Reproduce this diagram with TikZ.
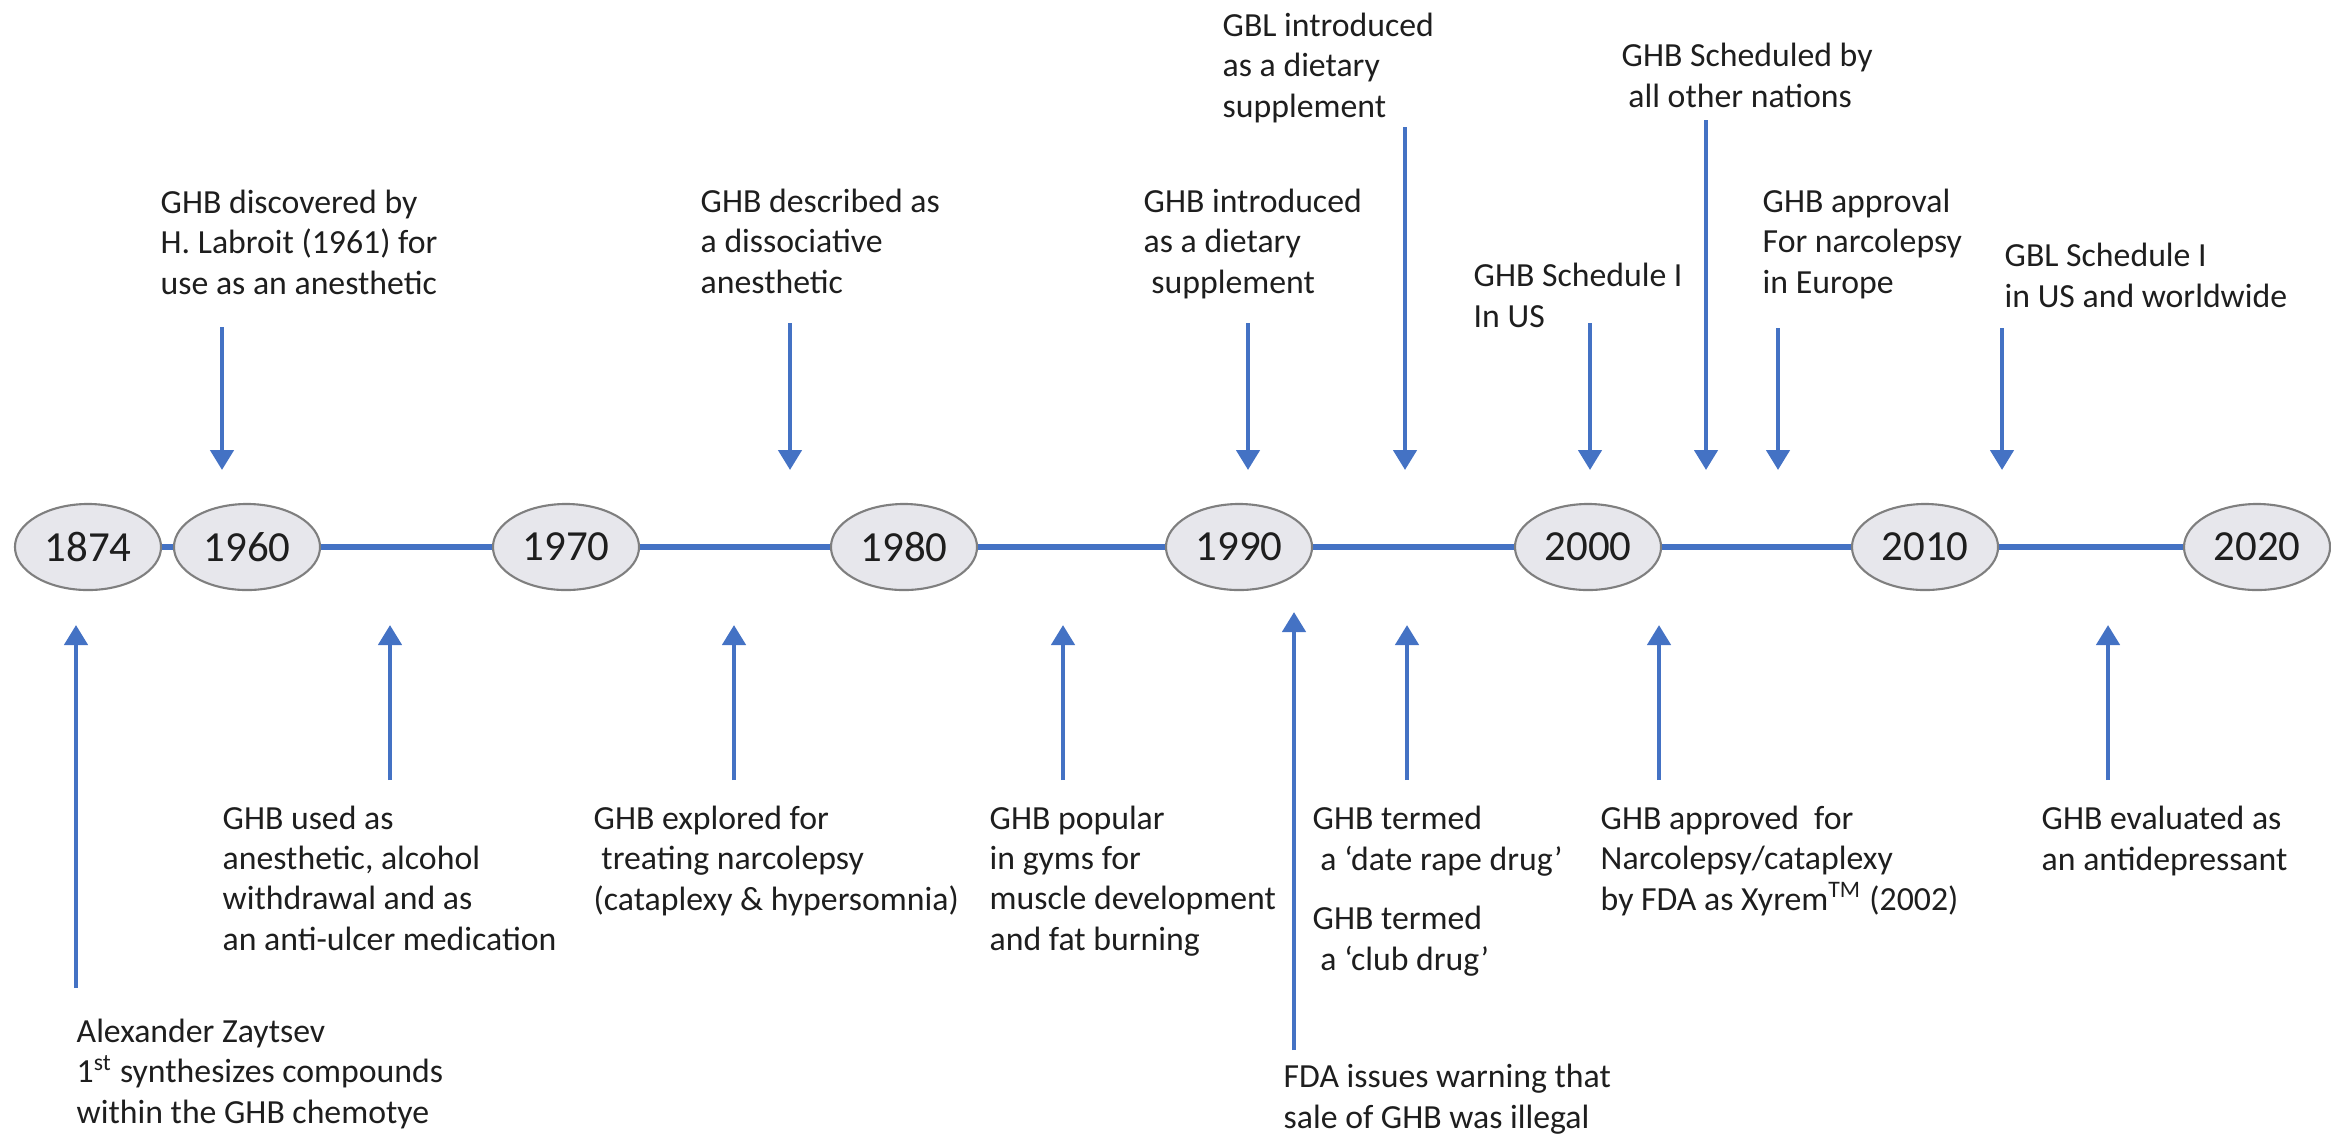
\documentclass[tikz,border=0pt]{standalone}
\usepackage{fontspec}
\setmainfont{Carlito}
\usetikzlibrary{shapes.geometric,arrows.meta}
\definecolor{tlblue}{HTML}{4472C4}
\definecolor{ellfill}{HTML}{E7E7EC}
\definecolor{ellline}{HTML}{7F7F7F}
\definecolor{txt}{HTML}{1E1E1E}
\begin{document}
\begin{tikzpicture}[x=0.01cm,y=-0.01cm,
  year/.style={ellipse,draw=ellline,line width=0.6pt,fill=ellfill,minimum width=1.46cm,minimum height=0.86cm,inner sep=0pt,font=\fontsize{12.2}{14}\selectfont,text=txt},
  ev/.style={anchor=base west,align=left,inner sep=0pt,font=\fontsize{9.6}{11.4}\selectfont,text=txt},
  tline/.style={draw=tlblue,line width=0.055cm},
  evarrow/.style={draw=tlblue,line width=0.045cm,-{Triangle[width=0.23cm,length=0.2cm]}}]
\useasboundingbox (0,0) rectangle (2331,1135);

% year ellipses
\node[year] (y1874) at (88,547) {1874};
\node[year] (y1960) at (247,547) {1960};
\node[year] (y1970) at (566,547) {1970};
\node[year] (y1980) at (904,547) {1980};
\node[year] (y1990) at (1239,547) {1990};
\node[year] (y2000) at (1588,547) {2000};
\node[year] (y2010) at (1925,547) {2010};
\node[year] (y2020) at (2257,547) {2020};

\draw[tline] (y1874) -- (y1960);
\draw[tline] (y1960) -- (y1970);
\draw[tline] (y1970) -- (y1980);
\draw[tline] (y1980) -- (y1990);
\draw[tline] (y1990) -- (y2000);
\draw[tline] (y2000) -- (y2010);
\draw[tline] (y2010) -- (y2020);

% top events (node position = baseline of the last line)
\node[ev] (eA) at (160,294) {GHB discovered by\\H. Labroit (1961) for\\use as an anesthetic};
\coordinate (aA1) at (222,327); \coordinate (aA2) at (222,470);
\draw[evarrow] (aA1) -- (aA2);

\node[ev] (eB) at (700,293) {GHB described as\\a dissociative\\anesthetic};
\coordinate (aB1) at (790,323); \coordinate (aB2) at (790,470);
\draw[evarrow] (aB1) -- (aB2);

\node[ev] (eC) at (1143,293) {GHB introduced\\as a dietary\\\hspace{0.23em}supplement};
\coordinate (aC1) at (1248,323); \coordinate (aC2) at (1248,470);
\draw[evarrow] (aC1) -- (aC2);

\node[ev] (eD) at (1222,117) {GBL introduced\\as a dietary\\supplement};
\coordinate (aD1) at (1405,127); \coordinate (aD2) at (1405,470);
\draw[evarrow] (aD1) -- (aD2);

\node[ev] (eE) at (1473,327) {GHB Schedule I\\In US};
\coordinate (aE1) at (1590,323); \coordinate (aE2) at (1590,470);
\draw[evarrow] (aE1) -- (aE2);

\node[ev] (eF) at (1621,107) {GHB Scheduled by\\\hspace{0.2em}all other nations};
\coordinate (aF1) at (1706,120); \coordinate (aF2) at (1706,470);
\draw[evarrow] (aF1) -- (aF2);

\node[ev] (eG) at (1762,293) {GHB approval\\For narcolepsy\\in Europe};
\coordinate (aG1) at (1778,328); \coordinate (aG2) at (1778,470);
\draw[evarrow] (aG1) -- (aG2);

\node[ev] (eH) at (2004,307) {GBL Schedule I\\in US and worldwide};
\coordinate (aH1) at (2002,328); \coordinate (aH2) at (2002,470);
\draw[evarrow] (aH1) -- (aH2);

% bottom events
\node[ev] (ea) at (76,1123) {Alexander Zaytsev\\1\textsuperscript{st} synthesizes compounds\\within the GHB chemotye};
\coordinate (ba1) at (76,988); \coordinate (ba2) at (76,625);
\draw[evarrow] (ba1) -- (ba2);

\node[ev] (eb) at (222,950) {GHB used as\\anesthetic, alcohol\\withdrawal and as\\an anti-ulcer medication};
\coordinate (bb1) at (390,780); \coordinate (bb2) at (390,625);
\draw[evarrow] (bb1) -- (bb2);

\node[ev] (ec) at (593,910) {GHB explored for\\\hspace{0.23em}treating narcolepsy\\(cataplexy \& hypersomnia)};
\coordinate (bc1) at (734,780); \coordinate (bc2) at (734,625);
\draw[evarrow] (bc1) -- (bc2);

\node[ev] (ed) at (989,950) {GHB popular\\in gyms for\\muscle development\\and fat burning};
\coordinate (bd1) at (1063,780); \coordinate (bd2) at (1063,625);
\draw[evarrow] (bd1) -- (bd2);

\node[ev] (ee) at (1283,1128) {FDA issues warning that\\sale of GHB was illegal};
\coordinate (be1) at (1294,1050); \coordinate (be2) at (1294,612);
\draw[evarrow] (be1) -- (be2);

\node[ev] (ef) at (1312,870) {GHB termed\\\hspace{0.23em}a ‘date rape drug’};
\node[ev] (eg) at (1312,970) {GHB termed\\\hspace{0.23em}a ‘club drug’};
\coordinate (bf1) at (1407,780); \coordinate (bf2) at (1407,625);
\draw[evarrow] (bf1) -- (bf2);

\node[ev] (eh) at (1600,910) {GHB approved\hspace{0.45em}for\\Narcolepsy/cataplexy\\by FDA as Xyrem\textsuperscript{TM} (2002)};
\coordinate (bh1) at (1659,780); \coordinate (bh2) at (1659,625);
\draw[evarrow] (bh1) -- (bh2);

\node[ev] (ei) at (2041,870) {GHB evaluated as\\an antidepressant};
\coordinate (bi1) at (2108,780); \coordinate (bi2) at (2108,625);
\draw[evarrow] (bi1) -- (bi2);
\end{tikzpicture}
\end{document}
